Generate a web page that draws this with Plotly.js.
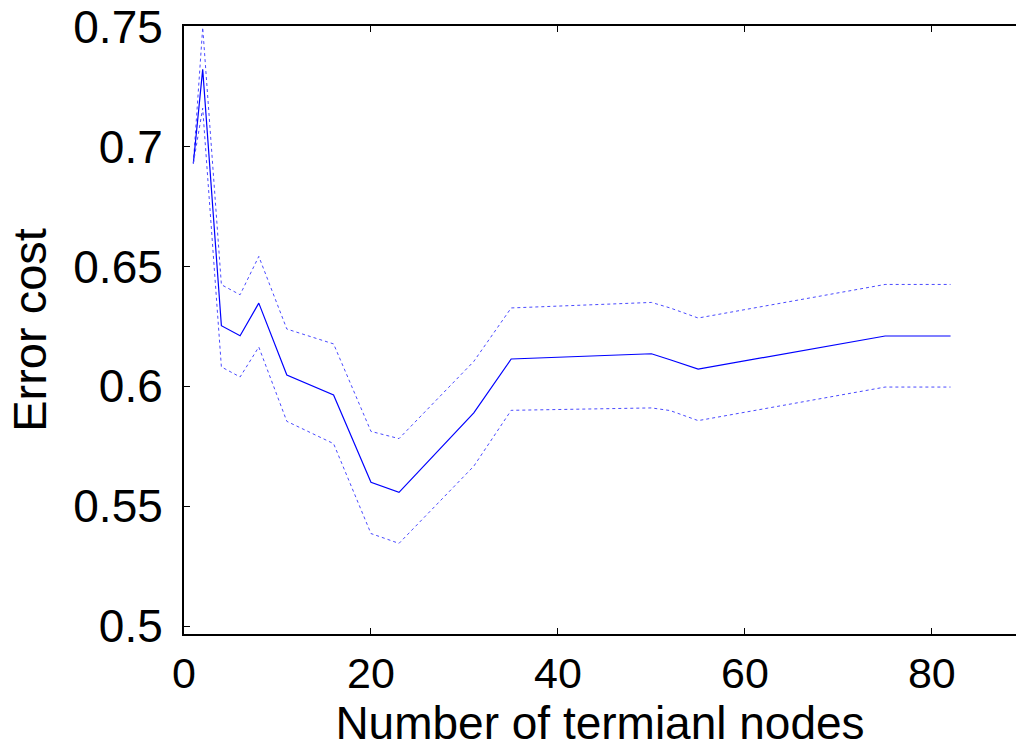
<!DOCTYPE html>
<html>
<head>
<meta charset="utf-8">
<script src="https://cdn.plot.ly/plotly-3.0.1.min.js"></script>
<style>html,body{margin:0;padding:0;background:#fff;}#chart{width:1016px;height:749px;}</style>
</head>
<body>
<div id="chart"></div>
<script>
var terminalNodes = [1, 2, 4, 6, 8, 11, 16, 20, 23, 31, 35, 50, 52, 55, 75, 82];
var meanCost  = [0.693, 0.7322, 0.6253, 0.6211, 0.6347, 0.6047, 0.5964, 0.5600, 0.5558, 0.5889, 0.6114, 0.6136, 0.6111, 0.6072, 0.6210, 0.6210];
var upperCost = [0.693, 0.7497, 0.6424, 0.6382, 0.6542, 0.6239, 0.6177, 0.5812, 0.5782, 0.6104, 0.6327, 0.6350, 0.6327, 0.6285, 0.6425, 0.6425];
var lowerCost = [0.693, 0.7160, 0.6081, 0.6039, 0.6164, 0.5854, 0.5761, 0.5386, 0.5345, 0.5667, 0.5900, 0.5910, 0.5899, 0.5857, 0.5997, 0.5997];
var xTicks = [0, 20, 40, 60, 80];
var yTicks = [0.5, 0.55, 0.6, 0.65, 0.7, 0.75];
var yTickText = ['0.5', '0.55', '0.6', '0.65', '0.7', '0.75'];

var traces = [
  {x: terminalNodes, y: upperCost, mode: 'lines', line: {color: '#4a4aff', width: 1, dash: 'dot'}, hoverinfo: 'x+y'},
  {x: terminalNodes, y: meanCost, mode: 'lines', line: {color: '#0000ff', width: 1.2}, hoverinfo: 'x+y'},
  {x: terminalNodes, y: lowerCost, mode: 'lines', line: {color: '#4a4aff', width: 1, dash: 'dot'}, hoverinfo: 'x+y'}
];

var fontFam = 'Liberation Sans, Arial, sans-serif';
var layout = {
  width: 1016, height: 749,
  paper_bgcolor: '#fff', plot_bgcolor: '#fff',
  showlegend: false,
  margin: {l: 184, r: 0, t: 26, b: 115},
  xaxis: {
    range: [0, 89], tickvals: xTicks, ticks: 'inside', ticklen: 6, tickcolor: '#000',
    showline: true, linecolor: '#000', linewidth: 2, mirror: 'ticks', showgrid: false, zeroline: false,
    tickfont: {family: fontFam, size: 43, color: '#000'},
    ticklabelstandoff: 0,
    title: {text: 'Number of termianl nodes', font: {family: fontFam, size: 46, color: '#000'}, standoff: 6},
    automargin: false
  },
  yaxis: {
    range: [0.4967, 0.7503], tickvals: yTicks, ticktext: yTickText, ticks: 'inside', ticklen: 6, tickcolor: '#000',
    showline: true, linecolor: '#000', linewidth: 2, mirror: false, showgrid: false, zeroline: false,
    tickfont: {family: fontFam, size: 46, color: '#000'},
    ticklabelstandoff: 10,
    title: {text: 'Error cost', font: {family: fontFam, size: 47, color: '#000'}, standoff: 12},
    automargin: false
  }
};

Plotly.newPlot('chart', traces, layout, {displayModeBar: false, staticPlot: true});
</script>
</body>
</html>
